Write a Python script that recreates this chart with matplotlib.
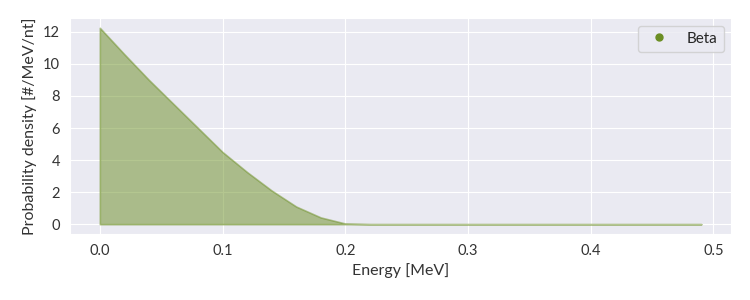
import matplotlib
matplotlib.use("Agg")
import matplotlib.pyplot as plt
from matplotlib.lines import Line2D
import seaborn as sns
import numpy as np

# beta spectrum
energy = [0.00, 0.02, 0.04, 0.06, 0.08, 0.10, 0.12, 0.14, 0.16, 0.18, 0.20,
          0.22, 0.25, 0.30, 0.35, 0.40, 0.45, 0.49]
density = [12.25, 10.6, 9.0, 7.5, 6.0, 4.5, 3.25, 2.1, 1.1, 0.42, 0.04,
           0.0, 0.0, 0.0, 0.0, 0.0, 0.0, 0.0]
label = "Beta"
color = "olivedrab"

sns.set_style("darkgrid")
plt.rcParams['font.family'] = ['Lato', 'DejaVu Sans']

fig, ax = plt.subplots(figsize=(7.5, 3), dpi=100)
fig.subplots_adjust(left=0.093, right=0.975, bottom=0.22, top=0.94)

ax.fill_between(energy, density, color=color, alpha=0.5, lw=1.2)

ax.set_xlabel("Energy [MeV]", fontsize=11.5, color="#333333")
ax.set_ylabel("Probability density [#/MeV/nt]", fontsize=11.5, color="#333333")
ax.tick_params(labelsize=10.5, colors="#333333")
ax.set_yticks(np.arange(0, 13, 2))

handle = Line2D([], [], marker='o', ls='', color=color, markersize=5)
ax.legend([handle], [label], loc="upper right", fontsize=11)

plt.savefig("out.png", dpi=100)
